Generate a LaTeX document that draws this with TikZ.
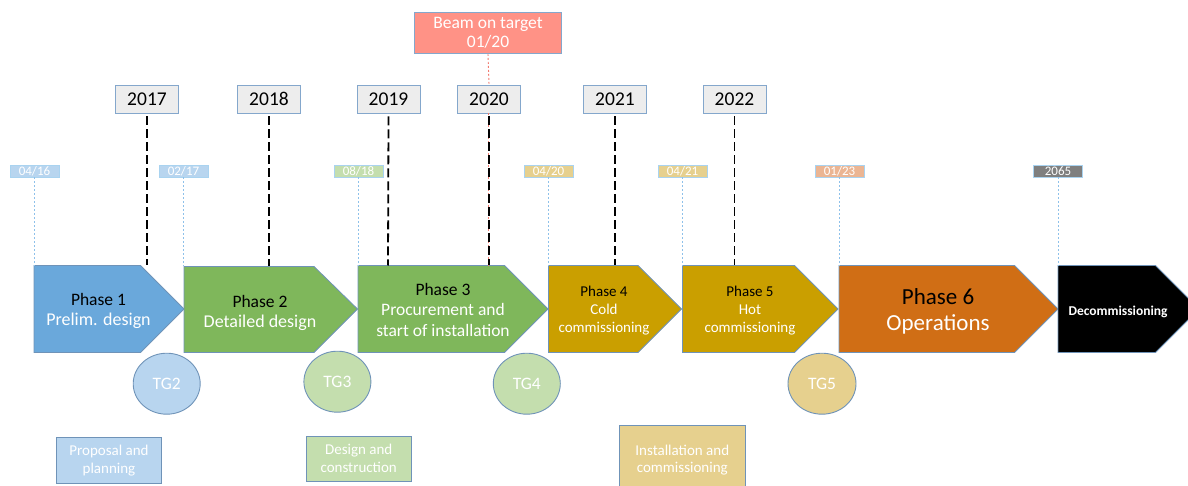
\documentclass[tikz,border=0pt]{standalone}
\usepackage{fontspec}
\setmainfont{Carlito}
\usetikzlibrary{shapes.geometric}

\definecolor{pblue}{HTML}{6AA8DB}
\definecolor{pgreen}{HTML}{7FB75B}
\definecolor{pgold}{HTML}{CA9F00}
\definecolor{porange}{HTML}{D06E15}
\definecolor{edgeblue}{HTML}{6F93B8}
\definecolor{lblue}{HTML}{B8D5EF}
\definecolor{lgreen}{HTML}{C4DEAE}
\definecolor{ltan}{HTML}{E6D08E}
\definecolor{lsalmon}{HTML}{EBB593}
\definecolor{lgray}{HTML}{7F7F7F}
\definecolor{beamred}{HTML}{FF9286}
\definecolor{beamline}{HTML}{F27B70}
\definecolor{yearfill}{HTML}{EDEDED}
\definecolor{yearedge}{HTML}{84A7CC}
\definecolor{tagedge}{HTML}{A9D3F0}
\definecolor{guideblue}{HTML}{8EC1EA}

\newcommand\fsz[2]{\fontsize{#1}{#2}\selectfont}

\tikzset{
  phasebody/.style={draw=edgeblue, line width=0.8pt},
  ptitle/.style={anchor=base, inner sep=0pt, text=black},
  psub/.style={anchor=base, inner sep=0pt, text=white},
  yearbox/.style={draw=yearedge, fill=yearfill, line width=0.9pt,
    minimum width=63pt, minimum height=28pt, inner sep=0pt,
    font=\fsz{19.5}{20}},
  datetag/.style={draw=tagedge, line width=0.6pt, minimum width=49pt,
    minimum height=12pt, inner sep=0pt, text=white, font=\fsz{13}{13}},
  gate/.style={ellipse, draw=edgeblue, line width=0.9pt, minimum width=67pt,
    minimum height=61pt, inner sep=0pt, text=white, font=\fsz{17.5}{18}},
  note/.style={draw=edgeblue, line width=0.9pt, inner sep=0pt, text=white,
    align=center, font=\fsz{15}{17.5}},
  yearline/.style={black, line width=1.8pt, dash pattern=on 9pt off 4pt},
  guide/.style={guideblue, line width=0.9pt, dash pattern=on 2pt off 2pt},
  beamguide/.style={beamline, line width=0.9pt, dash pattern=on 2pt off 2pt},
}

\begin{document}
\begin{tikzpicture}[x=1pt, y=-1pt]
\useasboundingbox (0,0) rectangle (1188,486);
\clip (0,0) rectangle (1188,486);

% phase arrows
\path[phasebody, fill=pblue]   (34,265.5)   -- (140.5,265.5) -- (184,309)  -- (140.5,352.5) -- (34,352.5) -- cycle;
\path[phasebody, fill=pgreen]  (184,266.5)  -- (314,266.5)   -- (357.5,309) -- (314,352.5) -- (184,352.5) -- cycle;
\path[phasebody, fill=pgreen]  (358,265.5)  -- (504.5,265.5) -- (548,309)  -- (504.5,352.5) -- (358,352.5) -- cycle;
\path[phasebody, fill=pgold]   (548.5,265.5) -- (638,265.5)  -- (681.5,309) -- (638,352.5) -- (548.5,352.5) -- cycle;
\path[phasebody, fill=pgold]   (682.5,265.5) -- (794.5,265.5) -- (838,309) -- (794.5,352.5) -- (682.5,352.5) -- cycle;
\path[phasebody, fill=porange] (839,265.5)  -- (1014.5,265.5) -- (1058,309) -- (1014.5,352.5) -- (839,352.5) -- cycle;
\path[phasebody, fill=black]   (1058,265.5) -- (1155.5,265.5) -- (1199,309) -- (1155.5,352.5) -- (1058,352.5) -- cycle;

% phase texts
\node[ptitle, font=\fsz{17.5}{18}] (t1) at (98.5,305.5) {Phase 1};
\node[psub,   font=\fsz{18}{18}]   (s1) at (98.5,325) {Prelim. design};
\node[ptitle, font=\fsz{17.5}{18}] (t2) at (260,307) {Phase 2};
\node[psub,   font=\fsz{18}{18}]   (s2) at (260,327.5) {Detailed design};
\node[ptitle, font=\fsz{17.5}{18}] (t3) at (443,295) {Phase 3};
\node[psub,   font=\fsz{17.5}{18}] (s3a) at (443,315.5) {Procurement and};
\node[psub,   font=\fsz{17.5}{18}] (s3b) at (443,336.5) {start of installation};
\node[ptitle, font=\fsz{15}{15}]   (t4) at (604,296.5) {Phase 4};
\node[psub,   font=\fsz{15}{15}]   (s4a) at (604,314) {Cold};
\node[psub,   font=\fsz{15}{15}]   (s4b) at (604,332.5) {commissioning};
\node[ptitle, font=\fsz{15}{15}]   (t5) at (750,296.5) {Phase 5};
\node[psub,   font=\fsz{15}{15}]   (s5a) at (750,314) {Hot};
\node[psub,   font=\fsz{15}{15}]   (s5b) at (750,332.5) {commissioning};
\node[ptitle, font=\fsz{23}{23}]   (t6) at (938,305) {Phase 6};
\node[psub,   font=\fsz{23}{23}]   (s6) at (938,330) {Operations};
\node[psub,   font=\bfseries\fsz{13.5}{14}] (t7) at (1118,315) {Decommissioning};

% line ends on top of the arrows
\coordinate (a17) at (147,265.5);
\coordinate (a18) at (269,266.5);
\coordinate (a19) at (388,265.5);
\coordinate (a20) at (489,265.5);
\coordinate (a21) at (615,265.5);
\coordinate (a22) at (734.5,265.5);
\coordinate (d1) at (34.5,265.5);
\coordinate (d2) at (183.5,266.5);
\coordinate (d3) at (358.5,265.5);
\coordinate (d4) at (548.5,265.5);
\coordinate (d5) at (682.5,265.5);
\coordinate (d6) at (839.5,265.5);
\coordinate (d7) at (1058,265.5);

% beam on target
\node[draw=yearedge, fill=beamred, line width=0.9pt, minimum width=147pt,
  minimum height=41pt, inner sep=0pt, text=white, align=center,
  font=\fsz{17.5}{19}] (beam) at (488,33) {Beam on target\\01/20};

% year boxes
\node[yearbox] (y17) at (147,99) {2017};
\node[yearbox] (y18) at (269,99) {2018};
\node[yearbox] (y19) at (388.5,99) {2019};
\node[yearbox] (y20) at (489,99) {2020};
\node[yearbox] (y21) at (615,99) {2021};
\node[yearbox] (y22) at (734.5,99) {2022};

% beam marker
\draw[beamguide] (beam.south) -- (y20.north);
\draw[beamguide] ([xshift=-0.8pt]y20.south) -- ([xshift=-0.8pt]a20);

% year markers
\draw[yearline] ([yshift=-3pt]y17.south) -- (a17);
\draw[yearline] ([yshift=-3pt]y18.south) -- (a18);
\draw[yearline] ([yshift=-3pt]y19.south) -- (a19);
\draw[yearline] ([yshift=-3pt]y20.south) -- (a20);
\draw[yearline] ([yshift=-3pt]y21.south) -- (a21);
\draw[yearline] ([yshift=-3pt]y22.south) -- (a22);

% date tags
\node[datetag, fill=lblue]   (g1) at (34.5,171) {04/16};
\node[datetag, fill=lblue]   (g2) at (183.5,171) {02/17};
\node[datetag, fill=lgreen]  (g3) at (358.5,171) {08/18};
\node[datetag, fill=ltan]    (g4) at (548.5,171) {04/20};
\node[datetag, fill=ltan]    (g5) at (682.5,171) {04/21};
\node[datetag, fill=lsalmon] (g6) at (839.5,171) {01/23};
\node[datetag, fill=lgray]   (g7) at (1058,171) {2065};

\draw[guide] (g1.south) -- (d1);
\draw[guide] (g2.south) -- (d2);
\draw[guide] (g3.south) -- (d3);
\draw[guide] (g4.south) -- (d4);
\draw[guide] (g5.south) -- (d5);
\draw[guide] (g6.south) -- (d6);
\draw[guide] (g7.south) -- (d7);

% tollgates
\node[gate, fill=lblue]  (tg2) at (166.7,383.7) {TG2};
\node[gate, fill=lgreen] (tg3) at (337.4,381.7) {TG3};
\node[gate, fill=lgreen] (tg4) at (526.8,383.7) {TG4};
\node[gate, fill=ltan, minimum width=68pt] (tg5) at (822,383.7) {TG5};

% stage notes
\node[note, fill=lblue, minimum width=105pt, minimum height=45.6pt]
  (n1) at (109,460.5) {Proposal and\\planning};
\node[note, fill=lgreen, minimum width=105.4pt, minimum height=45pt]
  (n2) at (358.7,458.5) {Design and\\construction};
\node[note, fill=ltan, minimum width=126.7pt, minimum height=70pt]
  (n3) at (682.3,460) {Installation and\\commissioning};
\end{tikzpicture}
\end{document}
